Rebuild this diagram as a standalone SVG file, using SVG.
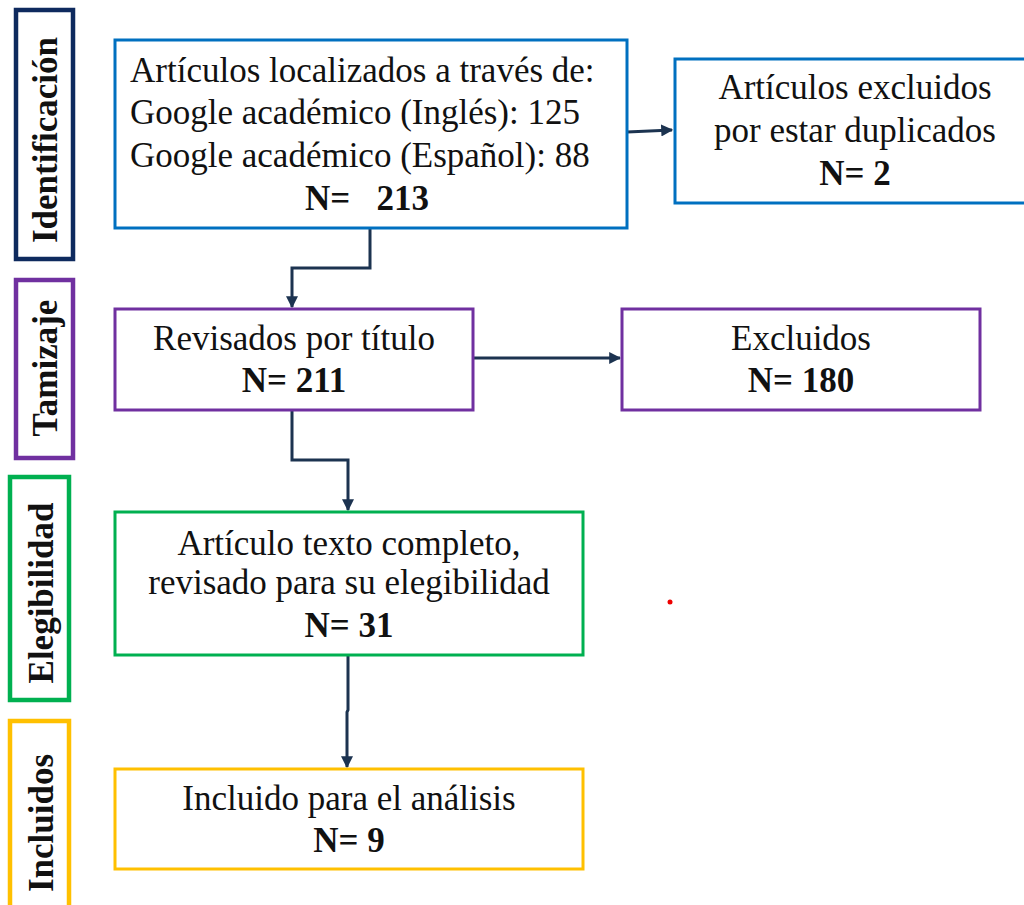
<svg xmlns="http://www.w3.org/2000/svg" width="1024" height="905" viewBox="0 0 1024 905">
<style>
.t{font-family:"Liberation Serif","Times New Roman",serif;font-size:35px;fill:#111}
.c{text-anchor:middle}
.b{font-weight:bold}
.v{font-family:"Liberation Serif","Times New Roman",serif;font-size:35px;font-weight:bold;fill:#111;text-anchor:middle}
.box{fill:#fff;stroke-width:3}
.side{fill:#fff;stroke-width:4.5}
.blue{stroke:#0070c0}
.purple{stroke:#7030a0}
.green{stroke:#00b050}
.yellow{stroke:#ffc000}
.navy{stroke:#0e2a5e}
.con{fill:none;stroke:#1c3350;stroke-width:3}
</style>
<defs>
<marker id="ah" viewBox="0 0 10 10" refX="9" refY="5" markerWidth="4" markerHeight="4" orient="auto" markerUnits="strokeWidth">
<path d="M0,0 L10,5 L0,10 z" fill="#1c3350"/>
</marker>
</defs>
<rect width="1024" height="905" fill="#fff"/>

<g id="side-identificacion">
<rect class="side navy" x="16" y="10" width="57" height="249"/>
<text class="v" transform="translate(57,140) rotate(-90)">Identificación</text>
</g>
<g id="side-tamizaje">
<rect class="side purple" x="16" y="280" width="57" height="178"/>
<text class="v" transform="translate(57,368) rotate(-90)">Tamizaje</text>
</g>
<g id="side-elegibilidad">
<rect class="side green" x="10" y="477" width="59" height="223"/>
<text class="v" transform="translate(53,593) rotate(-90)">Elegibilidad</text>
</g>
<g id="side-incluidos">
<rect class="side yellow" x="10" y="721" width="59" height="190"/>
<text class="v" transform="translate(53,823) rotate(-90)">Incluidos</text>
</g>

<g id="connectors">
<path class="con" d="M627,132 L672,130" marker-end="url(#ah)"/>
<path class="con" d="M370,228 L370,268 L292,268 L292,307" marker-end="url(#ah)"/>
<path class="con" d="M473,358 L620,358" marker-end="url(#ah)"/>
<path class="con" d="M292,410 L292,460 L348,460 L348,510" marker-end="url(#ah)"/>
<path class="con" d="M348,655 L348,710 L347,712 L347,767" marker-end="url(#ah)"/>
</g>

<g id="box-identificacion">
<rect class="box blue" x="115" y="40" width="512" height="188"/>
<text class="t" x="130" y="82">Artículos localizados a través de:</text>
<text class="t" x="130" y="124">Google académico (Inglés): 125</text>
<text class="t" x="130" y="167">Google académico (Español): 88</text>
<text class="t b" x="305" y="210" xml:space="preserve">N=   213</text>
</g>

<g id="box-duplicados">
<rect class="box blue" x="675" y="59" width="360" height="144"/>
<text class="t c" x="855" y="99">Artículos excluidos</text>
<text class="t c" x="855" y="142">por estar duplicados</text>
<text class="t c b" x="855" y="185">N= 2</text>
</g>

<g id="box-revisados">
<rect class="box purple" x="115" y="309" width="358" height="101"/>
<text class="t c" x="294" y="350">Revisados por título</text>
<text class="t c b" x="294" y="392">N= 211</text>
</g>

<g id="box-excluidos">
<rect class="box purple" x="622" y="309" width="358" height="101"/>
<text class="t c" x="801" y="350">Excluidos</text>
<text class="t c b" x="801" y="392">N= 180</text>
</g>

<g id="box-elegibilidad">
<rect class="box green" x="115" y="512" width="468" height="143"/>
<text class="t c" x="349" y="555">Artículo texto completo,</text>
<text class="t c" x="349" y="594">revisado para su elegibilidad</text>
<text class="t c b" x="349" y="637">N= 31</text>
</g>

<g id="box-incluido">
<rect class="box yellow" x="115" y="769" width="468" height="100"/>
<text class="t c" x="349" y="810">Incluido para el análisis</text>
<text class="t c b" x="349" y="852">N= 9</text>
</g>

<circle cx="670" cy="602" r="2.5" fill="#e00"/>
</svg>
